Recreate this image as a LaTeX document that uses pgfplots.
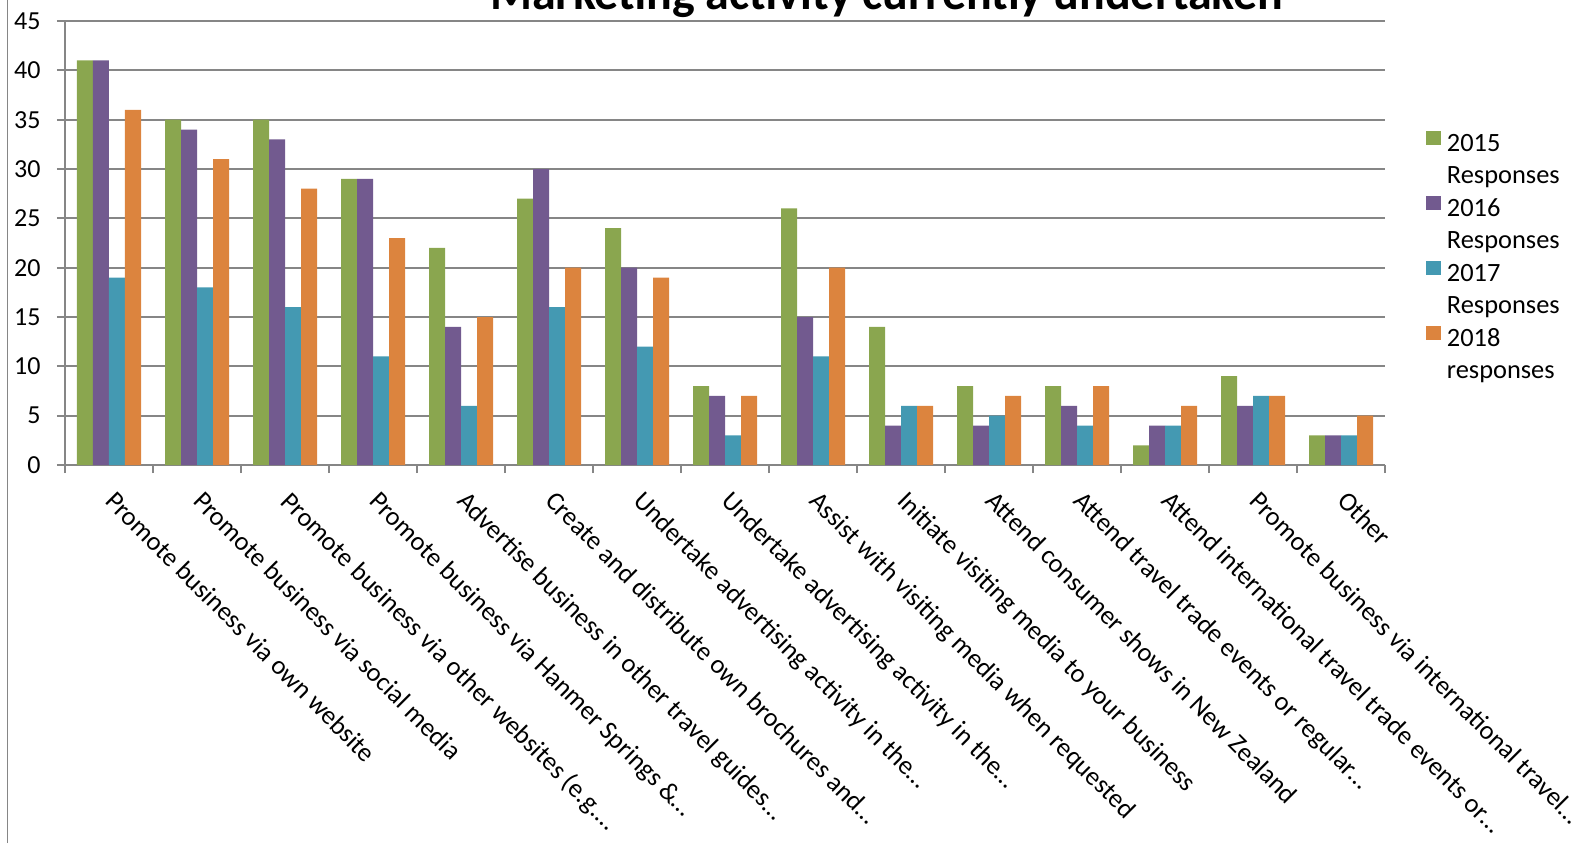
\documentclass[border=0pt]{standalone}
\usepackage{pgfplots}
\pgfplotsset{compat=1.18}
\usepackage{fontspec}
\setmainfont{Carlito}
\definecolor{cA}{HTML}{8AA64F}
\definecolor{cB}{HTML}{725A8F}
\definecolor{cC}{HTML}{4499B2}
\definecolor{cD}{HTML}{DC843E}
\definecolor{gridgray}{HTML}{868686}
\begin{document}
\begin{tikzpicture}
\path[use as bounding box] (-32.5pt,-189pt) rectangle (762pt,232.5pt);
\draw[gridgray, line width=0.75pt] (-28.75pt,-189pt) -- (-28.75pt,232.5pt);
\begin{axis}[
  scale only axis,
  width=660pt, height=222pt,
  at={(0,0)}, anchor=south west,
  xmin=-0.5, xmax=14.5,
  ymin=0, ymax=45,
  ytick={0,5,...,45},
  axis x line*=bottom, axis y line*=left,
  axis line style={-, draw=gridgray, line width=1pt},
  ymajorgrids,
  grid style={draw=gridgray, line width=1pt},
  tick style={draw=gridgray, line width=1pt},
  tick align=outside,
  major tick length=4pt,
  /pgf/number format/assume math mode=true,
  yticklabel style={font=\fontsize{13pt}{15pt}\selectfont, anchor=east, inner sep=0pt, xshift=-8pt},
  xtick={-0.5,0.5,...,14.5},
  xticklabels={},
  extra x ticks={0,1,...,14},
  extra x tick labels={Promote business via own website, Promote business via social media, Promote business via other websites (e.g.…, Promote business via Hanmer Springs \&…, Advertise business in other travel guides…, Create and distribute own brochures and…, Undertake advertising activity in the…, Undertake advertising activity in the…, Assist with visiting media when requested, Initiate visiting media to your business, Attend consumer shows in New Zealand, Attend travel trade events or regular…, Attend international travel trade events or…, Promote business via international travel…, Other},
  extra x tick style={major tick length=0pt, tick style={draw=none},
    xticklabel style={font=\fontsize{13.2pt}{15pt}\selectfont, inner sep=0pt, xshift=4pt, yshift=-12pt, rotate=-45, anchor=north west}},
  ybar=0pt, bar width=8pt,
  legend style={at={(1.031,0.7523)}, anchor=north west, draw=none, fill=none, inner sep=0pt, outer sep=0pt,
    font=\fontsize{13.2pt}{15pt}\selectfont, row sep=3pt, column sep=3pt,
    nodes={inner xsep=0pt, inner ysep=0pt, text height=10pt, text depth=3pt}},
  legend cell align=left,
  legend image code/.code={\fill[#1] (0pt,0pt) rectangle (7.5pt,7pt);},
  clip=false,
]
\addplot[fill=cA, draw=none, bar shift=-12pt] coordinates {(0,41) (1,35) (2,35) (3,29) (4,22) (5,27) (6,24) (7,8) (8,26) (9,14) (10,8) (11,8) (12,2) (13,9) (14,3)};
\addlegendentry{2015}
\addlegendimage{empty legend}
\addlegendentry{Responses}
\addplot[fill=cB, draw=none, bar shift=-4pt] coordinates {(0,41) (1,34) (2,33) (3,29) (4,14) (5,30) (6,20) (7,7) (8,15) (9,4) (10,4) (11,6) (12,4) (13,6) (14,3)};
\addlegendentry{2016}
\addlegendimage{empty legend}
\addlegendentry{Responses}
\addplot[fill=cC, draw=none, bar shift=4pt] coordinates {(0,19) (1,18) (2,16) (3,11) (4,6) (5,16) (6,12) (7,3) (8,11) (9,6) (10,5) (11,4) (12,4) (13,7) (14,3)};
\addlegendentry{2017}
\addlegendimage{empty legend}
\addlegendentry{Responses}
\addplot[fill=cD, draw=none, bar shift=12pt] coordinates {(0,36) (1,31) (2,28) (3,23) (4,15) (5,20) (6,19) (7,7) (8,20) (9,6) (10,7) (11,8) (12,6) (13,7) (14,5)};
\addlegendentry{2018}
\addlegendimage{empty legend}
\addlegendentry{responses}
\node[anchor=base, font=\fontsize{24pt}{28pt}\selectfont\bfseries] at ([yshift=6pt]rel axis cs:0.6227,1) {Marketing activity currently undertaken};
\end{axis}
\end{tikzpicture}
\end{document}
